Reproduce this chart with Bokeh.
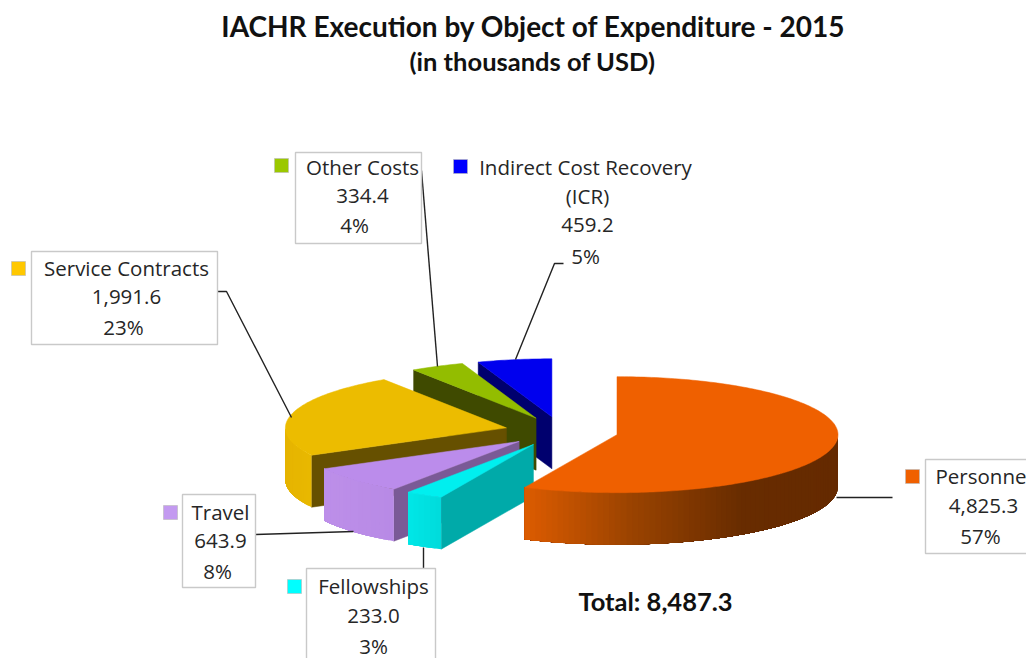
import math
from bokeh.plotting import figure
from bokeh.models import Range1d
from bokeh.core.properties import value
from bokeh.embed import file_html
from bokeh.resources import INLINE

# ---- data, in drawing order round the pie (clockwise from 12 o'clock)
categories = ["Personnel", "Fellowships", "Travel", "Service Contracts", "Other Costs", "Indirect Cost Recovery (ICR)"]
amounts = [4825.3, 233.0, 643.9, 1991.6, 334.4, 459.2]
total_label = "Total: 8,487.3"
title_lines = ["IACHR Execution by Object of Expenditure - 2015", "(in thousands of USD)"]

# ---- colours
top_colors = ["#ef6000", "#00efef", "#bb8ceb", "#ecbc00", "#93bd00", "#0000ee"]
cut_colors = [None, "#00aaa9", "#7a5a96", "#665000", "#3f4a00", "#00006e"]
key_colors = ["#f06000", "#00ffff", "#c39af0", "#ffc800", "#9bc800", "#0000ff"]
rim_stops = [
    [(0.0, "#de5c00"), (0.35, "#9a4300"), (0.70, "#682c00"), (1.0, "#652a00")],
    [(0.0, "#00e8e8"), (1.0, "#00dcdc")],
    [(0.0, "#bd8fe9"), (1.0, "#b88ae6")],
    [(0.0, "#e6b400"), (1.0, "#e8b800")],
    [(0.0, "#93bd00"), (1.0, "#93bd00")],
    [(0.0, "#0000ee"), (1.0, "#0000ee")],
]

# ---- pie geometry, in page pixels
CX, CY, RX, RY, DEPTH, EXPLODE = 561, 431, 221, 58, 52, 0.257


def pt(cx, cy, deg):
    a = math.radians(deg)
    return cx + RX * math.sin(a), cy - RY * math.cos(a)


def hex2rgb(h):
    return tuple(int(h[i:i + 2], 16) for i in (1, 3, 5))


def ramp(stops, t):
    for (t0, c0), (t1, c1) in zip(stops, stops[1:]):
        if t <= t1:
            f = 0 if t1 == t0 else (t - t0) / (t1 - t0)
            a, b = hex2rgb(c0), hex2rgb(c1)
            return "#%02x%02x%02x" % tuple(round(a[i] + f * (b[i] - a[i])) for i in range(3))
    return stops[-1][1]


p = figure(width=1026, height=658, output_backend="svg", toolbar_location=None,
           x_range=Range1d(0, 1026), y_range=Range1d(658, 0),
           min_border=0, outline_line_color=None, background_fill_color="white",
           margin=(0, 0, 0, 0))
p.axis.visible = False
p.grid.visible = False

whole = sum(amounts)
angles = [0]
for v in amounts:
    angles.append(angles[-1] + v / whole * 360)

# painter's order: back slices first, Personnel last
for i in [5, 4, 3, 2, 1, 0]:
    a0, a1 = angles[i], angles[i + 1]
    mid = math.radians((a0 + a1) / 2)
    cx = CX + EXPLODE * RX * math.sin(mid)
    cy = CY - EXPLODE * RY * math.cos(mid)
    # flat cut face that looks toward the viewer
    if cut_colors[i] is not None:
        ex, ey = pt(cx, cy, a0)
        p.patch([ex, cx, cx, ex], [ey, cy, cy + DEPTH, ey + DEPTH],
                fill_color=cut_colors[i], line_color=cut_colors[i], line_width=0.5)
    # outer rim, lower half of the ellipse only, in overlapping strips
    lo, hi = max(a0, 90), min(a1, 270)
    if hi > lo:
        n = max(2, int((hi - lo) / 1.5))
        x_left = pt(cx, cy, hi)[0]
        x_right = pt(cx, cy, lo)[0]
        for k in range(n):
            b0 = lo + (hi - lo) * k / n
            b1 = hi
            m = max(2, int(b1 - b0))
            arc = [pt(cx, cy, b0 + (b1 - b0) * j / m) for j in range(m + 1)]
            t = (x_right - pt(cx, cy, b0)[0]) / max(1, x_right - x_left)
            col = ramp(rim_stops[i], 1 - t)
            p.patch([q[0] for q in arc] + [q[0] for q in reversed(arc)],
                    [q[1] for q in arc] + [q[1] + DEPTH for q in reversed(arc)],
                    fill_color=col, line_color=None)
    # top face
    n = max(4, int(a1 - a0))
    arc = [pt(cx, cy, a0 + (a1 - a0) * k / n) for k in range(n + 1)]
    p.patch([cx] + [q[0] for q in arc], [cy] + [q[1] for q in arc],
            fill_color=top_colors[i], line_color=top_colors[i], line_width=0.5)

# ---- leader lines
leaders = [
    ([836, 892], [497, 497]),
    ([423, 423], [547, 568]),
    ([255, 353], [534, 531]),
    ([217, 226, 291], [291, 291, 417]),
    ([421, 437], [170, 366]),
    ([563, 554, 515], [263, 263, 359]),
]
for lx, ly in leaders:
    p.line(lx, ly, line_color="#222222", line_width=1.4)

# ---- label boxes: left, right, top, bottom
boxes = [(925, 1040, 459, 553), (306, 435, 568, 680), (182, 255, 494, 587), (31, 217, 251, 344), (295, 421, 152, 243)]
p.quad(left=[b[0] for b in boxes], right=[b[1] for b in boxes], top=[b[2] for b in boxes], bottom=[b[3] for b in boxes],
       fill_color="white", line_color="#c9c9c9", line_width=1.4)

# ---- legend keys
keys = [(905, 469), (287, 579), (163, 505), (11, 261), (274, 158), (453, 159)]
p.quad(left=[k[0] for k in keys], right=[k[0] + 14 for k in keys], top=[k[1] for k in keys], bottom=[k[1] + 14 for k in keys],
       fill_color=key_colors, line_color="#bbbbbb", line_width=0.6)


def label(lines, xs, ys, size="20.5px", weight="normal", color="#262626", align="center", font="Open Sans"):
    p.text(xs, ys, text=lines, text_font=value(font), text_font_size=value(size),
           text_font_style=value(weight), text_color=color, text_align=align, text_baseline="middle")


def amt(i):
    return f"{amounts[i]:,.1f}"


def pct(i):
    return f"{amounts[i] / whole * 100:.0f}%"


label(["Personnel"], [935], [475], align="left")
label([amt(0), pct(0)], [983, 980], [505, 535])
label(["Fellowships", amt(1), pct(1)], [373, 373, 373], [585, 615, 645])
label(["Travel", amt(2), pct(2)], [220, 220, 217], [511, 540, 570])
label(["Service Contracts", amt(3), pct(3)], [126, 126, 123], [267, 296, 326])
label(["Other Costs", amt(4), pct(4)], [362, 362, 354], [166, 195, 224])
label(["Indirect Cost Recovery", "(ICR)", amt(5), pct(5)], [585, 587, 587, 585], [166, 195, 224, 255])
label([total_label], [655], [600], size="25.5px", weight="bold", color="#111111", font="Lato")
label([title_lines[0]], [533], [25], size="28px", weight="bold", color="#111111", font="Lato")
label([title_lines[1]], [532], [60], size="25.5px", weight="bold", color="#111111", font="Lato")

open("out.html", "w").write(file_html(p, INLINE))
